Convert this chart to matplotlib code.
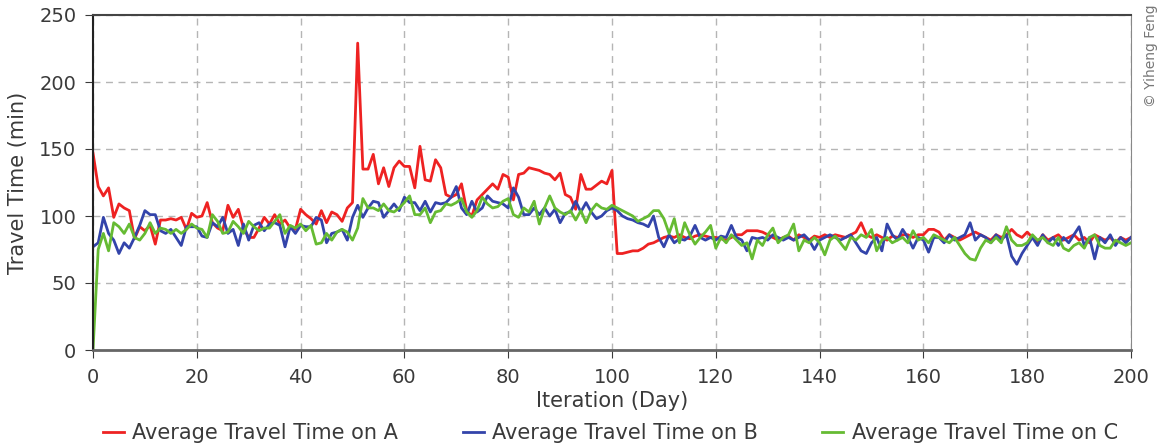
import matplotlib
matplotlib.use("Agg")
import matplotlib.pyplot as plt

days = list(range(0, 201))

travel_a = [
    147, 122, 115, 121, 99, 109, 106, 104, 83, 92,
    89, 93, 79, 97, 97, 98, 97, 99, 90, 102,
    99, 100, 110, 95, 91, 89, 108, 99, 105, 91,
    84, 84, 91, 99, 94, 101, 94, 97, 91, 90,
    105, 101, 98, 94, 104, 95, 103, 101, 96, 106,
    110, 229, 135, 135, 146, 124, 136, 122, 136, 141,
    137, 137, 121, 152, 127, 126, 142, 136, 116, 114,
    116, 124, 104, 100, 112, 116, 120, 124, 120, 131,
    129, 112, 131, 132, 136, 135, 134, 132, 131, 127,
    132, 116, 114, 105, 131, 120, 120, 123, 126, 124,
    134, 72, 72, 73, 74, 74, 76, 79, 80, 82,
    84, 85, 84, 86, 84, 83, 85, 86, 85, 84,
    84, 83, 82, 84, 86, 86, 89, 89, 89, 88,
    86, 84, 82, 84, 85, 82, 86, 84, 82, 85,
    84, 86, 84, 86, 85, 84, 86, 88, 95, 86,
    84, 86, 84, 82, 85, 84, 86, 86, 84, 86,
    86, 90, 90, 88, 82, 86, 84, 82, 84, 86,
    88, 86, 84, 82, 86, 84, 86, 90, 86, 84,
    88, 84, 80, 86, 82, 84, 86, 82, 84, 86,
    82, 84, 80, 86, 84, 82, 84, 80, 84, 82,
    84,
]

travel_b = [
    77, 80, 99, 87, 82, 72, 80, 76, 84, 93,
    104, 101, 101, 89, 87, 90, 84, 78, 92, 92,
    92, 85, 84, 95, 92, 99, 87, 90, 78, 94,
    82, 93, 95, 89, 94, 95, 93, 77, 92, 87,
    93, 92, 92, 99, 97, 80, 87, 88, 90, 82,
    99, 108, 99, 106, 111, 110, 99, 104, 109, 104,
    114, 110, 110, 104, 111, 103, 110, 109, 110, 114,
    122, 106, 101, 111, 103, 106, 115, 111, 110, 109,
    106, 121, 114, 101, 101, 106, 101, 106, 100, 105,
    95, 102, 103, 111, 103, 110, 103, 98, 100, 104,
    106, 104, 100, 98, 97, 95, 94, 92, 100, 84,
    77, 86, 80, 83, 82, 85, 93, 84, 82, 84,
    82, 85, 84, 93, 84, 82, 74, 84, 83, 84,
    82, 86, 84, 82, 84, 82, 84, 86, 82, 75,
    82, 84, 86, 84, 82, 84, 86, 80, 74, 72,
    80, 84, 74, 94, 86, 82, 90, 84, 76, 84,
    82, 73, 84, 84, 80, 86, 82, 84, 86, 95,
    82, 86, 84, 80, 86, 82, 86, 70, 64, 72,
    78, 84, 78, 86, 80, 84, 78, 84, 80, 86,
    92, 78, 84, 68, 84, 80, 86, 78, 84, 80,
    84,
]

travel_c = [
    0, 75, 87, 74, 95, 92, 87, 94, 84, 82,
    87, 95, 87, 91, 90, 87, 90, 87, 90, 94,
    91, 90, 84, 101, 96, 87, 88, 96, 92, 87,
    96, 92, 89, 91, 91, 96, 101, 87, 93, 91,
    94, 89, 93, 79, 80, 87, 82, 88, 90, 88,
    82, 91, 113, 106, 106, 104, 109, 104, 103, 106,
    110, 115, 101, 101, 106, 95, 103, 104, 109, 108,
    110, 113, 103, 99, 104, 114, 109, 106, 107, 111,
    113, 101, 99, 106, 103, 111, 94, 106, 115, 106,
    103, 101, 104, 97, 104, 95, 104, 109, 106, 105,
    108, 106, 104, 102, 100, 96, 98, 100, 104, 104,
    98, 87, 98, 80, 95, 86, 79, 84, 88, 93,
    76, 84, 80, 86, 82, 78, 80, 68, 82, 78,
    86, 91, 80, 84, 86, 94, 74, 82, 80, 84,
    80, 71, 82, 85, 80, 75, 84, 82, 86, 84,
    90, 74, 82, 84, 80, 82, 84, 80, 89, 82,
    84, 80, 86, 84, 82, 80, 84, 78, 72, 68,
    67, 76, 82, 80, 84, 80, 92, 82, 78, 78,
    80, 86, 82, 84, 80, 78, 84, 76, 74, 78,
    80, 76, 84, 86, 78, 76, 76, 82, 80, 78,
    80,
]

series_labels = ["Average Travel Time on A", "Average Travel Time on B", "Average Travel Time on C"]
x_ticks = [0, 20, 40, 60, 80, 100, 120, 140, 160, 180, 200]
y_ticks = [0, 50, 100, 150, 200, 250]

plt.rcParams["font.family"] = ["DejaVu Sans"]

text_col = "#3a3a3a"
fig = plt.figure(figsize=(11.65, 4.46), dpi=100)
ax = fig.add_axes([93 / 1165, 96 / 446, (1131 - 93) / 1165, (350 - 15) / 446])

colors = ["#ee2222", "#3344aa", "#66bb33"]
for vals, col, lab in zip([travel_a, travel_b, travel_c], colors, series_labels):
    ax.plot(days, vals, color=col, lw=2.0, label=lab)

ax.set_xlim(0, 200)
ax.set_ylim(0, 250)
ax.set_xticks(x_ticks)
ax.set_yticks(y_ticks)
ax.tick_params(axis="both", labelsize=14, colors=text_col, length=6, direction="out")
ax.tick_params(axis="x", pad=7)
ax.tick_params(axis="y", pad=6)
ax.grid(True, color="#b5b5b5", linestyle=(0, (5, 4)), lw=1.0)
ax.set_axisbelow(True)

ax.spines["left"].set_color("#222222")
ax.spines["left"].set_linewidth(1.5)
ax.spines["top"].set_color("#444444")
ax.spines["top"].set_linewidth(1.5)
ax.spines["bottom"].set_color("#666666")
ax.spines["bottom"].set_linewidth(2.0)
ax.spines["right"].set_color("#888888")

ax.set_xlabel("Iteration (Day)", fontsize=15, color=text_col, labelpad=3)
ax.set_ylabel("Travel Time (min)", fontsize=15, color=text_col, labelpad=8)

leg = fig.legend(loc="lower center", bbox_to_anchor=(0.524, -0.035), ncol=3, frameon=False,
                 fontsize=15, handlelength=1.0, handletextpad=0.4, columnspacing=3.1)
for t in leg.get_texts():
    t.set_color(text_col)

fig.text(0.988, 0.99, "© Yiheng Feng", rotation=90, ha="center", va="top",
         fontsize=10, color="#777777")

fig.savefig("out.png", dpi=100)
